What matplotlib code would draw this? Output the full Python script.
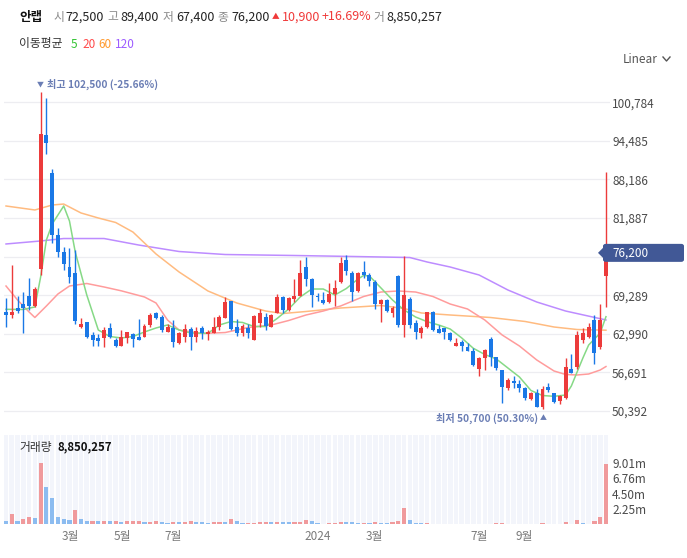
import numpy as np
import matplotlib
matplotlib.use('Agg')
import matplotlib.pyplot as plt
from matplotlib.patches import FancyBboxPatch, Polygon
from matplotlib.lines import Line2D

plt.rcParams['font.family'] = ['Noto Sans CJK KR', 'DejaVu Sans']

W, H = 687, 558

# 주봉 시가/고가/저가/종가
opens = [66600, 66060, 67250, 67850, 69160, 67580, 73520, 95440, 89190, 79120,
         76290, 73840, 72960, 64050, 64870, 62740, 62360, 62260, 63890, 61980,
         61050, 62360, 62910, 62420, 62520, 64430, 66340, 65680, 63330, 63990,
         61440, 62520, 63770, 62420, 63890, 62960, 63170, 64150, 65620, 68340,
         64150, 63170, 63990, 61980, 64800, 65680, 64150, 66430, 69050, 66880,
         68620, 69160, 73940, 71890, 69160, 68510, 68230, 69440, 71490, 75040,
         72960, 69970, 73030, 72590, 71400, 67850, 68510, 66340, 72420, 64430,
         68620, 64800, 63170, 64150, 66600, 63730, 63890, 63170, 61050, 61700,
         60790, 60230, 57200, 58990, 62140, 59160, 57080, 54190, 55340, 54800,
         54100, 52300, 53280, 51090, 54360, 53280, 52070, 52470, 57200, 57620,
         61980, 62520, 65240, 60890, 72500]
highs = [68830, 74220, 69160, 69810, 72100, 70630, 102500, 101420, 89890, 80310,
         77210, 77040, 76670, 65620, 64970, 63330, 62960, 64050, 64700, 62260,
         63610, 63330, 63070, 65360, 64590, 66430, 66600, 66060, 64590, 65240,
         63330, 64590, 64150, 64150, 64260, 63610, 65680, 66060, 68950, 68400,
         65360, 64590, 64540, 66060, 66990, 66430, 66220, 69490, 69160, 68950,
         71890, 75040, 75570, 72050, 69700, 69860, 71230, 71770, 75570, 75850,
         73290, 73130, 74920, 72870, 71770, 68600, 68620, 67530, 72590, 75690,
         69050, 65240, 64260, 66600, 66760, 64430, 63950, 63330, 62260, 61980,
         61440, 60620, 59160, 60460, 62520, 59250, 57080, 55730, 56100, 55450,
         54360, 53540, 53930, 54470, 55010, 53300, 53000, 58990, 59690, 63500,
         63890, 64800, 66060, 67850, 89400]
lows = [64100, 65570, 66380, 63120, 66870, 67360, 72590, 92330, 77760, 75480,
        73400, 71330, 64590, 63890, 62360, 61050, 61000, 60890, 62260, 60790,
        60950, 61440, 60790, 61900, 62420, 64150, 65360, 63330, 63240, 60790,
        61280, 61700, 60350, 61700, 62140, 61980, 63070, 63610, 65520, 63610,
        62630, 62630, 62260, 61900, 64150, 63610, 64050, 66340, 66340, 66760,
        68230, 69100, 70790, 67320, 68400, 67850, 68070, 67530, 71230, 72590,
        68400, 69750, 72050, 70790, 67040, 64970, 66600, 65680, 64150, 62420,
        63890, 62090, 62260, 63890, 63500, 63100, 62090, 61870, 60980, 60230,
        60150, 57740, 56100, 57080, 57740, 57080, 51650, 53820, 54100, 53540,
        52190, 52190, 51000, 50700, 53540, 51750, 51530, 52300, 56600, 57200,
        61540, 62260, 58060, 60460, 67400]
closes = [66060, 66600, 66760, 67150, 67530, 70300, 95600, 94080, 79120, 76390,
          74330, 72310, 65130, 64540, 62520, 61980, 61870, 63610, 62420, 61050,
          62520, 63240, 62140, 61980, 64310, 66060, 65520, 63610, 64150, 61610,
          63070, 63770, 62520, 63450, 63170, 63330, 64150, 65680, 68230, 63730,
          63170, 64260, 63070, 65900, 66430, 64260, 66060, 69050, 66880, 68790,
          69160, 72960, 71890, 69320, 68950, 68070, 69490, 70420, 74590, 73290,
          69860, 72960, 72590, 71660, 67850, 68510, 66760, 67250, 64430, 69320,
          64430, 63330, 63990, 66600, 63610, 63170, 63330, 61980, 61540, 60990,
          60230, 57900, 58990, 60350, 59250, 57360, 54360, 55450, 54910, 54100,
          52560, 53280, 51090, 53930, 53820, 51910, 52840, 57520, 56640, 62800,
          63170, 64150, 59810, 65300, 76200]
# 거래량 (백만 주)
volume = [0.50, 1.55, 0.48, 0.75, 1.05, 0.90, 9.01, 5.50, 3.80, 1.05,
          0.68, 0.66, 2.00, 0.68, 0.40, 0.41, 0.39, 0.40, 0.38, 0.40,
          0.25, 0.40, 0.41, 0.42, 0.28, 0.30, 0.40, 0.25, 0.12, 0.26,
          0.24, 0.27, 0.40, 0.26, 0.25, 0.10, 0.26, 0.27, 0.25, 0.80,
          0.40, 0.10, 0.15, 0.20, 0.25, 0.27, 0.25, 0.30, 0.26, 0.25,
          0.27, 0.35, 0.55, 0.40, 0.08, 0.07, 0.15, 0.20, 0.35, 0.25,
          0.24, 0.10, 0.20, 0.12, 0.30, 0.10, 0.09, 0.30, 0.45, 2.30,
          0.60, 0.20, 0.08, 0.09, 0.06, 0.07, 0.05, 0.06, 0.05, 0.04,
          0.05, 0.06, 0.07, 0.06, 0.07, 0.08, 0.22, 0.04, 0.05, 0.06,
          0.07, 0.06, 0.07, 0.08, 0.03, 0.02, 0.05, 0.25, 0.06, 0.60,
          0.08, 0.07, 0.40, 1.00, 8.85]
last_volume = 8850257

# 이동평균선
ma5_idx = [0, 3, 5, 6, 7, 8, 10, 11, 12, 14, 16, 18, 20, 22, 24, 26, 28, 30, 32, 35,
           37, 39, 41, 43, 45, 47, 49, 51, 53, 55, 57, 59, 61, 62, 63, 65, 67, 69, 71, 73,
           75, 77, 79, 81, 83, 85, 87, 89, 91, 93, 95, 97, 98, 99, 100, 101, 102, 103, 104]
ma5_val = [66990, 66960, 67370, 72260, 78300, 80910, 83850, 81400, 76340, 69320,
           63610, 62550, 62310, 62550, 63290, 63940, 64430, 63610, 63120, 63070,
           64430, 65000, 64840, 64180, 64180, 65490, 67040, 69000, 70300, 70300,
           69320, 70380, 71930, 72510, 72420, 70470, 68510, 66880, 65730, 64970,
           64430, 63770, 62310, 60630, 59610, 58880, 57410, 55940, 53740, 52920,
           52790, 53000, 54470, 56760, 59040, 61160, 62140, 63120, 65780]
ma20_idx = [0, 2, 4, 5, 7, 9, 11, 14, 17, 20, 24, 26, 28, 30, 34, 38, 42, 46, 49, 52,
            55, 58, 62, 65, 68, 71, 74, 77, 80, 83, 86, 89, 92, 95, 97, 99, 101, 103, 104]
ma20_val = [70790, 68510, 66550, 65650, 67530, 69490, 70790, 71200, 70630, 70000,
            69000, 68020, 65240, 63610, 63040, 63200, 64020, 64430, 65160, 66060,
            66710, 67530, 69080, 69810, 69980, 69810, 69080, 67850, 67040, 65240,
            62800, 61000, 58720, 56920, 56350, 56270, 56430, 57080, 57650]
ma60_idx = [0, 5, 8, 10, 13, 16, 19, 22, 26, 30, 35, 40, 45, 48, 52, 58, 65, 69, 72, 77,
            84, 90, 95, 99, 104]
ma60_val = [83850, 83200, 84010, 84170, 82710, 81890, 81160, 79600, 76020, 73080,
            69980, 68020, 66710, 66300, 66630, 67200, 67610, 67120, 66390, 66060,
            65650, 65000, 64100, 63690, 63580]
ma120_idx = [0, 6, 10, 17, 23, 30, 38, 50, 60, 70, 73, 77, 82, 87, 92, 97, 104]
ma120_val = [77650, 78140, 78540, 78540, 77480, 76420, 75930, 75770, 75610, 75440,
             74710, 73890, 72590, 70140, 68180, 66710, 65250]

price_ticks = [50392, 56691, 62990, 69289, 75588, 81887, 88186, 94485, 100784]
vol_ticks = [2.2525, 4.505, 6.7575, 9.01]
vol_tick_labels = ['2.25m', '4.50m', '6.76m', '9.01m']
month_pos = [11.1, 20.1, 28.9, 54.1, 63.8, 82.1, 89.9]
month_labels = ['3월', '5월', '7월', '2024', '3월', '7월', '9월']

RED = '#ec3b3b'
BLUE = '#1a78e6'
RED_V = '#f09a9c'
BLUE_V = '#8cbcf0'
MARK = '#6a7db4'


def fx(px):
    return px / W


def fy(py):
    return 1 - py / H


fig = plt.figure(figsize=(W / 100, H / 100), dpi=100)
ax = fig.add_axes([fx(4), fy(425), (610 - 4) / W, (425 - 70) / H])
axv = fig.add_axes([fx(4), fy(524), (610 - 4) / W, (524 - 435) / H])

o = np.array(opens)
hi = np.array(highs)
lo = np.array(lows)
c = np.array(closes)
x = np.arange(len(c))
col = np.where(c >= o, RED, BLUE)

# 이동평균선
ax.plot(ma120_idx, ma120_val, color='#bd8cff', lw=1.1, zorder=2)
ax.plot(ma60_idx, ma60_val, color='#ffbb80', lw=1.1, zorder=2)
ax.plot(ma20_idx, ma20_val, color='#ff9c9c', lw=1.1, zorder=2)
ax.plot(ma5_idx, ma5_val, color='#86d986', lw=1.1, zorder=2)

# 캔들
ax.vlines(x, lo, hi, colors=col, lw=1.0, zorder=3)
ax.bar(x, np.maximum(np.abs(c - o), 160), bottom=np.minimum(o, c), width=0.68,
       color=col, zorder=4)

ax.set_xlim(-0.35, 104.7)
ax.set_ylim(48107, 106043)
ax.set_yticks(price_ticks)
ax.set_yticklabels([f'{v:,}' if v != 75588 else '' for v in price_ticks])
ax.yaxis.tick_right()
ax.tick_params(axis='y', length=0, pad=1.5, labelsize=8.5, labelcolor='#4a4a4a')
ax.set_xticks([])
ax.grid(axis='y', color='#ededf1', lw=0.9)
ax.set_axisbelow(True)
for s in ax.spines.values():
    s.set_visible(False)

# 최고 / 최저
i_hi = int(np.argmax(hi))
i_lo = int(np.argmin(lo))
pct_hi = (c[-1] - hi[i_hi]) / hi[i_hi] * 100
pct_lo = (c[-1] - lo[i_lo]) / lo[i_lo] * 100
ax.annotate('▼', xy=(i_hi, hi[i_hi]), xytext=(0, 7), textcoords='offset pixels',
            ha='center', va='center', fontsize=5, color=MARK, annotation_clip=False)
ax.annotate(f'최고 {hi[i_hi]:,} ({pct_hi:.2f}%)', xy=(i_hi, hi[i_hi]), xytext=(6, 7),
            textcoords='offset pixels', ha='left', va='center', fontsize=7.3,
            fontweight='bold', color=MARK, annotation_clip=False)
ax.annotate('▲', xy=(i_lo, lo[i_lo]), xytext=(1, -9), textcoords='offset pixels',
            ha='center', va='center', fontsize=5, color=MARK, annotation_clip=False)
ax.annotate(f'최저 {lo[i_lo]:,} ({pct_lo:.2f}%)', xy=(i_lo, lo[i_lo]), xytext=(-4, -9),
            textcoords='offset pixels', ha='right', va='center', fontsize=7.3,
            fontweight='bold', color=MARK, annotation_clip=False)

# 거래량
v = np.array(volume)
vcol = np.where(np.r_[False, v[1:] >= v[:-1]], RED_V, BLUE_V)
axv.set_xlim(-0.35, 104.7)
axv.set_ylim(0, 13.15)
axv.bar(x, 13.15, width=0.8, color='#f3f5fb', zorder=0)
axv.bar(x, v, width=0.72, color=vcol, zorder=2)
axv.set_yticks(vol_ticks)
axv.set_yticklabels(vol_tick_labels)
axv.yaxis.tick_right()
axv.tick_params(axis='y', length=0, pad=1.5, labelsize=8.5, labelcolor='#4a4a4a')
axv.set_xticks(month_pos)
axv.set_xticklabels(month_labels)
axv.tick_params(axis='x', length=0, pad=4, labelsize=8.5, labelcolor='#7a7a7a')
for s in axv.spines.values():
    s.set_visible(False)

# 현재가 박스
fig.canvas.draw()
ypix = ax.transData.transform((0, c[-1]))[1]
fig.add_artist(FancyBboxPatch((603 / W, (ypix - 9) / H), 81 / W, 18 / H,
                              boxstyle='round,pad=0,rounding_size=0.004',
                              transform=fig.transFigure, fc='#415896', ec='none'))
fig.add_artist(Polygon([[598 / W, ypix / H], [604 / W, (ypix + 6) / H], [604 / W, (ypix - 6) / H]],
                       closed=True, transform=fig.transFigure, fc='#415896', ec='none'))
fig.text(612 / W, ypix / H, f'{c[-1]:,}', color='white', fontsize=8.5, va='center', ha='left')

# 상단 헤더
chg = c[-1] - c[-2]
pct = chg / c[-2] * 100
header = [
    (19, '안랩', '#111111', 'bold', 9),
    (53, '시', '#8a8a8a', 'normal', 8.5),
    (65, f'{o[-1]:,}', '#222222', 'normal', 9),
    (107, '고', '#8a8a8a', 'normal', 8.5),
    (120, f'{hi[-1]:,}', '#222222', 'normal', 9),
    (163, '저', '#8a8a8a', 'normal', 8.5),
    (176, f'{lo[-1]:,}', '#222222', 'normal', 9),
    (217, '종', '#8a8a8a', 'normal', 8.5),
    (231, f'{c[-1]:,}', '#222222', 'normal', 9),
    (272, '▲', '#f03a3a', 'normal', 5.5),
    (282, f'{chg:,}', '#f03a3a', 'normal', 9),
    (322, f'+{pct:.2f}%', '#f03a3a', 'normal', 9),
    (373, '거', '#8a8a8a', 'normal', 8.5),
    (386, f'{last_volume:,}', '#222222', 'normal', 9),
]
for px, t, cc, fw, fs in header:
    fig.text(fx(px), fy(17), t, color=cc, fontsize=fs, fontweight=fw, va='center', ha='left')

legend = [(19, '이동평균', '#333333'), (71, '5', '#33c433'), (82, '20', '#ff4a4a'),
          (98, '60', '#ff9a2e'), (115, '120', '#9d5cff')]
for px, t, cc in legend:
    fig.text(fx(px), fy(44), t, color=cc, fontsize=8.5, va='center', ha='left')

fig.text(fx(623), fy(59), 'Linear', color='#555555', fontsize=8.5, va='center', ha='left')
fig.add_artist(Line2D([fx(663), fx(666.5), fx(670)], [fy(57), fy(61), fy(57)],
                      color='#555555', lw=1.0, transform=fig.transFigure))

fig.text(fx(19), fy(447), '거래량', color='#333333', fontsize=8.5, va='center', ha='left')
fig.text(fx(58), fy(447), f'{last_volume:,}', color='#111111', fontsize=8.2, fontweight='bold',
         va='center', ha='left')

fig.savefig('out.png', dpi=100)
